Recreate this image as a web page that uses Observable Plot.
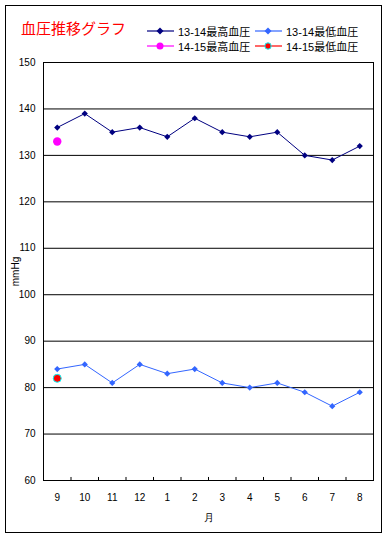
<!DOCTYPE html>
<html><head><meta charset="utf-8">
<script src="https://cdn.jsdelivr.net/npm/d3@7"></script>
<script src="https://cdn.jsdelivr.net/npm/@observablehq/plot@0.6"></script>
<style>
body{margin:0;background:#fff;}
#wrap{position:relative;width:389px;height:538px;overflow:hidden;font-family:"Liberation Sans",Arial,sans-serif;background:#fff;}
#frame{position:absolute;left:5px;top:5px;width:377px;height:528px;border:1px solid #000;box-sizing:border-box;pointer-events:none;}
#title{position:absolute;left:21px;top:18px;font-family:"Noto Sans CJK JP",sans-serif;font-size:15px;color:#ff0000;line-height:20px;white-space:nowrap;}
.leg{position:absolute;height:14px;display:flex;align-items:center;font-family:"Liberation Sans","Noto Sans CJK JP",sans-serif;font-size:11px;color:#000;white-space:nowrap;}
.leg svg{margin-right:4px;}
#chart{position:absolute;left:0;top:0;}
</style></head>
<body>
<div id="wrap">
  <div id="chart"></div>
  <div id="title">血圧推移グラフ</div>
  <div id="legend"></div>
  <div id="frame"></div>
</div>
<script>
const months = ["9","10","11","12","1","2","3","4","5","6","7","8"];
const high1314 = [136,139,135,136,134,138,135,134,135,130,129,132];
const low1314  = [84,85,81,85,83,84,81,80,81,79,76,79];
const high1415 = [133];
const low1415  = [82];
const yTicks = [60,70,80,90,100,110,120,130,140,150];
const seriesNames = ["13-14最高血圧","13-14最低血圧","14-15最高血圧","14-15最低血圧"];
const seriesColors = ["#000080","#3366ff","#ff00ff","#ff0000"];

const idx = months.map((m,i)=>i);
const boundaries = idx.slice(1).map(i=>i-0.5);

const chart = Plot.plot({
  width: 389,
  height: 538,
  marginLeft: 43,
  marginRight: 16,
  marginTop: 62,
  marginBottom: 58,
  style: {fontFamily: '"Liberation Sans", Arial, sans-serif', fontSize: "10px", background: "transparent"},
  x: {type: "linear", domain: [-0.5, months.length - 0.5]},
  y: {domain: [60, 150]},
  marks: [
    Plot.ruleY(yTicks, {stroke: "#000", strokeWidth: 1}),
    Plot.frame({stroke: "#000"}),
    Plot.ruleX(boundaries, {y1: 60, y2: 60.65, stroke: "#000"}),
    Plot.line(high1314, {x: (d,i)=>i, y: d=>d, stroke: seriesColors[0], strokeWidth: 1}),
    Plot.dot(high1314, {x: (d,i)=>i, y: d=>d, symbol: "diamond2", r: 2.8, fill: seriesColors[0], stroke: "none"}),
    Plot.line(low1314, {x: (d,i)=>i, y: d=>d, stroke: seriesColors[1], strokeWidth: 1}),
    Plot.dot(low1314, {x: (d,i)=>i, y: d=>d, symbol: "diamond2", r: 2.8, fill: seriesColors[1], stroke: "none"}),
    Plot.dot(high1415, {x: (d,i)=>i, y: d=>d, r: 4.2, fill: seriesColors[2], stroke: "none"}),
    Plot.dot(low1415, {x: (d,i)=>i, y: d=>d, r: 4, fill: seriesColors[3], stroke: "#00ffff", strokeWidth: 1}),
    Plot.axisY({ticks: yTicks, tickSize: 0, tickPadding: 8, label: "mmHg", labelAnchor: "center", labelArrow: "none", labelOffset: 32, fontSize: 10}),
    Plot.axisX({ticks: idx, tickFormat: i => months[i], tickSize: 0, tickPadding: 13, label: "月", labelAnchor: "center", labelArrow: "none", labelOffset: 40, fontSize: 10})
  ]
});
document.getElementById("chart").appendChild(chart);

// legend
const legPos = [[147,24],[255,24],[147,39],[255,39]];
const legend = document.getElementById("legend");
seriesNames.forEach((name,i)=>{
  const div = document.createElement("div");
  div.className = "leg";
  div.style.left = legPos[i][0] + "px";
  div.style.top = legPos[i][1] + "px";
  let marker;
  if (i < 2) marker = `<path d="M13,3.5 L16.5,7 L13,10.5 L9.5,7 Z" fill="${seriesColors[i]}"/>`;
  else if (i === 2) marker = `<circle cx="13" cy="7" r="3.5" fill="${seriesColors[i]}"/>`;
  else marker = `<circle cx="13" cy="7" r="3.2" fill="${seriesColors[i]}" stroke="#00ffff" stroke-width="1"/>`;
  div.innerHTML = `<svg width="27" height="14"><line x1="0" x2="27" y1="7" y2="7" stroke="${seriesColors[i]}" stroke-width="1.2"/>${marker}</svg><span>${name}</span>`;
  legend.appendChild(div);
});
</script>
</body></html>
